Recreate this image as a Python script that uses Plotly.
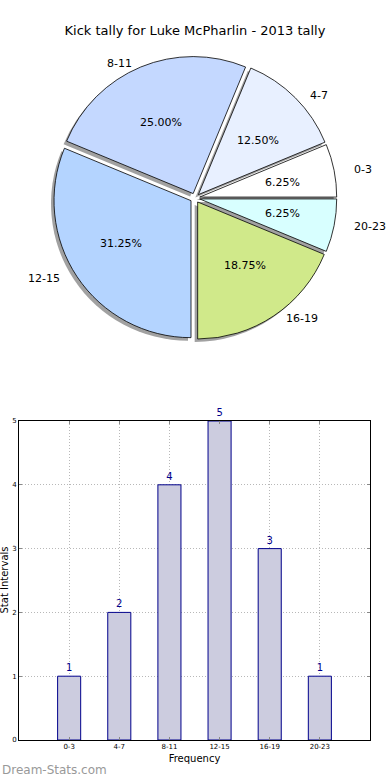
import math
import plotly.graph_objects as go

# ---- data ----
categories = ["0-3", "4-7", "8-11", "12-15", "16-19", "20-23"]
counts = [1, 2, 4, 5, 3, 1]
pie_colors = ["#ffffff", "#e8f0ff", "#c4d8ff", "#b4d4ff", "#d0e98a", "#d8ffff"]
title_text = "Kick tally for Luke McPharlin - 2013 tally"
y_ticks = [0, 1, 2, 3, 4, 5]

W, H = 390, 780
def px_x(x):
    return x / W
def px_y(y):
    return 1 - y / H

total = sum(counts)
explode = 0.035
pull = [explode] * len(categories)
cx, cy, R = 195, 198, 137
D = R * (1 + explode)
first_angle = 360.0 * counts[0] / total

fig = go.Figure()

common = dict(labels=categories, values=counts, sort=False, direction="counterclockwise",
              rotation=90 - first_angle, pull=pull, textinfo="none", hoverinfo="skip",
              showlegend=False)

# shadow pie
fig.add_trace(go.Pie(
    **common,
    marker=dict(colors=["#8a8a8a"] * 6, line=dict(color="#8a8a8a", width=0)),
    opacity=0.8,
    domain=dict(x=[px_x(cx - D - 3), px_x(cx + D - 3)], y=[px_y(cy + D + 3), px_y(cy - D + 3)]),
))
# main pie
fig.add_trace(go.Pie(
    **common,
    marker=dict(colors=pie_colors, line=dict(color="black", width=0.8)),
    domain=dict(x=[px_x(cx - D), px_x(cx + D)], y=[px_y(cy + D), px_y(cy - D)]),
))

# labels / percentages placed like matplotlib (labeldistance 1.1, pctdistance 0.6)
annotations = []
rx, ry = 141, 128
cum = 0
for cat, v in zip(categories, counts):
    mid = math.radians(360.0 * (cum + v / 2) / total)
    cum += v
    c, s = math.cos(mid), math.sin(mid)
    lx = cx + (1.1 + explode) * rx * c
    ly = cy - (1.1 + explode) * ry * s
    annotations.append(dict(text=cat, x=px_x(lx), y=px_y(ly), xref="paper", yref="paper",
                            xanchor="left" if c > 0 else "right", yanchor="middle",
                            showarrow=False,
                            font=dict(family="DejaVu Sans", size=11, color="black")))
    tx = cx + (0.6 + explode) * rx * c
    ty = cy - (0.6 + explode) * ry * s
    annotations.append(dict(text=f"{100.0 * v / total:.2f}%", x=px_x(tx), y=px_y(ty),
                            xref="paper", yref="paper", xanchor="center", yanchor="middle",
                            showarrow=False,
                            font=dict(family="DejaVu Sans", size=11, color="black")))

annotations += [
    dict(text="Stat Intervals", textangle=-90, x=px_x(3.5), y=px_y(580), xref="paper", yref="paper",
         xanchor="center", yanchor="middle", showarrow=False,
         font=dict(family="DejaVu Sans", size=10, color="black")),
    dict(text="Dream-Stats.com", x=0, y=px_y(770), xref="paper", yref="paper",
         xanchor="left", yanchor="middle", showarrow=False,
         font=dict(family="DejaVu Sans", size=12, color="#999999")),
]

# bar chart
fig.add_trace(go.Bar(
    x=categories, y=counts, width=0.46,
    marker=dict(color="#ccccdf", line=dict(color="#00008b", width=1)),
    text=[str(v) for v in counts], textposition="outside",
    textfont=dict(family="DejaVu Sans", size=10, color="#00008b"),
    cliponaxis=False, hoverinfo="skip", showlegend=False,
    xaxis="x", yaxis="y",
))

grid_dash = "1px,2px"
fig.update_layout(
    width=W, height=H,
    margin=dict(l=0, r=0, t=0, b=0, autoexpand=False),
    paper_bgcolor="white", plot_bgcolor="white",
    font=dict(family="DejaVu Sans", color="black"),
    title=dict(text=title_text, x=0.5, xanchor="center", y=px_y(30), yanchor="middle",
               font=dict(family="DejaVu Sans", size=13, color="black")),
    xaxis=dict(
        domain=[px_x(19), px_x(370)], anchor="y", type="category", automargin=False,
        range=[-1, 6], showline=True, mirror="ticks", linecolor="black", linewidth=1,
        showgrid=True, gridcolor="#b8b8b8", griddash=grid_dash, gridwidth=1,
        ticks="inside", ticklen=3, tickcolor="#888888",
        tickfont=dict(family="DejaVu Sans", size=7, color="black"),
        title=dict(text="Frequency", font=dict(family="DejaVu Sans", size=10, color="black"), standoff=4),
        fixedrange=True,
    ),
    yaxis=dict(
        domain=[px_y(740), px_y(421)], anchor="x", automargin=False,
        range=[0, 5], tickvals=y_ticks, showline=True, mirror="ticks", linecolor="black", linewidth=1,
        showgrid=True, gridcolor="#b8b8b8", griddash=grid_dash, gridwidth=1,
        ticks="inside", ticklen=3, tickcolor="#888888",
        tickfont=dict(family="DejaVu Sans", size=7, color="black"),
        zeroline=False, fixedrange=True,
    ),
    annotations=annotations,
)

fig.write_html("out.html", config={"displayModeBar": False},
               post_script="document.body.style.margin='0px';document.body.style.padding='0px';")
